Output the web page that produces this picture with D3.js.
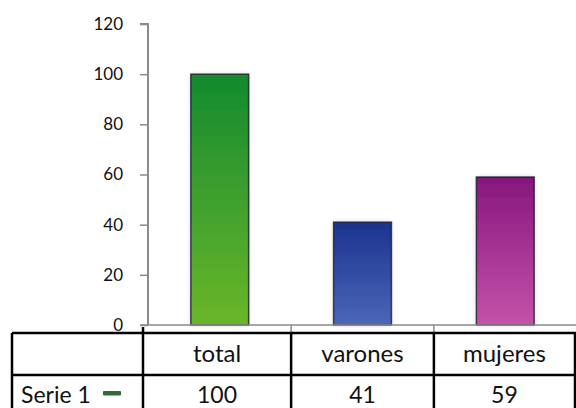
<!DOCTYPE html>
<html>
<head>
<meta charset="utf-8">
<script src="https://cdn.jsdelivr.net/npm/d3@7/dist/d3.min.js"></script>
<style>
  html, body { margin: 0; padding: 0; background: #fff; }
  svg { display: block; }
  text { font-family: Lato, "Open Sans", sans-serif; fill: #111; }
</style>
</head>
<body>
<svg id="chart" width="576" height="408"></svg>
<script>
// Chart data
const categories = ["total", "varones", "mujeres"];
const values = [100, 41, 59];
const seriesName = "Serie 1";
const yTicks = [0, 20, 40, 60, 80, 100, 120];
const topColors = ["#138a2f", "#1c338e", "#86177e"];
const bottomColors = ["#6bb62b", "#4c66b8", "#c452a9"];

const W = 576, H = 408;
const svg = d3.select("#chart");

const plotLeft = 148, plotRight = 577, plotTop = 24, plotBottom = 325;

const x = d3.scaleBand().domain(categories).range([plotLeft, plotRight])
  .paddingInner(0.595).paddingOuter(0.3);
const y = d3.scaleLinear().domain([0, 120]).range([plotBottom, plotTop]);

// Gradients per bar
const defs = svg.append("defs");
categories.forEach((c, i) => {
  const g = defs.append("linearGradient").attr("id", "grad" + i)
    .attr("x1", 0).attr("y1", 0).attr("x2", 0).attr("y2", 1);
  g.append("stop").attr("offset", "0%").attr("stop-color", topColors[i]);
  g.append("stop").attr("offset", "100%").attr("stop-color", bottomColors[i]);
});
const shadow = defs.append("filter").attr("id", "glow")
  .attr("x", "-20%").attr("y", "-20%").attr("width", "140%").attr("height", "140%");
shadow.append("feGaussianBlur").attr("in", "SourceAlpha").attr("stdDeviation", 2).attr("result", "b");
shadow.append("feComponentTransfer").attr("in", "b").attr("result", "s")
  .append("feFuncA").attr("type", "linear").attr("slope", 0.15);
const merge = shadow.append("feMerge");
merge.append("feMergeNode").attr("in", "s");
merge.append("feMergeNode").attr("in", "SourceGraphic");

// Y axis
const yAxis = d3.axisLeft(y).tickValues(yTicks).tickSize(8).tickPadding(17);
const ya = svg.append("g").attr("transform", `translate(${plotLeft},0)`).call(yAxis);
ya.select(".domain").attr("stroke", "#8a8a8a").attr("stroke-width", 2)
  .attr("d", `M-8,${plotTop}H0V${plotBottom}`);
ya.selectAll(".tick line").attr("stroke", "#8a8a8a").attr("stroke-width", 1.5);
ya.selectAll(".tick text").attr("fill", "#111")
  .style("font-size", "17px").style("font-family", "Lato, 'Open Sans', sans-serif");

// Bars
svg.append("g").selectAll("rect").data(values).join("rect")
  .attr("x", (d, i) => x(categories[i]))
  .attr("y", d => y(d))
  .attr("width", x.bandwidth())
  .attr("height", d => y(0) - y(d))
  .attr("fill", (d, i) => `url(#grad${i})`)
  .attr("stroke", "rgba(20,20,40,0.75)")
  .attr("stroke-width", 1.5)
  .attr("filter", "url(#glow)");

// Category axis baseline and separators
svg.append("line").attr("x1", 140).attr("x2", W).attr("y1", plotBottom).attr("y2", plotBottom)
  .attr("stroke", "#8a8a8a").attr("stroke-width", 1.5);
const step = x.step();
const bounds = [1, 2].map(k => x(categories[k]) - (step - x.bandwidth()) / 2);
svg.append("g").selectAll("line").data(bounds).join("line")
  .attr("x1", d => d).attr("x2", d => d).attr("y1", plotBottom).attr("y2", 333)
  .attr("stroke", "#8a8a8a").attr("stroke-width", 1.5);

// Data table
const tableTop = 333, rowDiv = 375, tableLeft = 12, firstCol = 143;
const colEdges = [firstCol, ...bounds, 575];
const tbl = svg.append("g").attr("stroke", "#000").attr("stroke-width", 2.5);
tbl.append("line").attr("x1", tableLeft).attr("x2", 576).attr("y1", tableTop).attr("y2", tableTop);
tbl.append("line").attr("x1", tableLeft).attr("x2", 576).attr("y1", rowDiv).attr("y2", rowDiv);
tbl.append("line").attr("x1", tableLeft).attr("x2", tableLeft).attr("y1", tableTop).attr("y2", H);
tbl.selectAll(".col").data(colEdges).join("line").attr("class", "col")
  .attr("x1", d => d).attr("x2", d => d)
  .attr("y1", (d, i) => i === 0 ? tableTop - 6 : tableTop).attr("y2", H);

// Header row
svg.append("g").selectAll("text").data(categories).join("text")
  .attr("x", (d, i) => (colEdges[i] + colEdges[i + 1]) / 2)
  .attr("y", 362)
  .attr("text-anchor", "middle").attr("font-size", 24)
  .text(d => d);

// Value row
svg.append("g").selectAll("text").data(values).join("text")
  .attr("x", (d, i) => (colEdges[i] + colEdges[i + 1]) / 2)
  .attr("y", 403)
  .attr("text-anchor", "middle").attr("font-size", 23)
  .text(d => d);

// Series label with legend key
svg.append("text").attr("x", 21).attr("y", 403).attr("font-size", 23).text(seriesName);
svg.append("rect").attr("x", 103).attr("y", 391).attr("width", 18).attr("height", 4.5)
  .attr("fill", "#2f6a32").attr("rx", 1);
</script>
</body>
</html>
